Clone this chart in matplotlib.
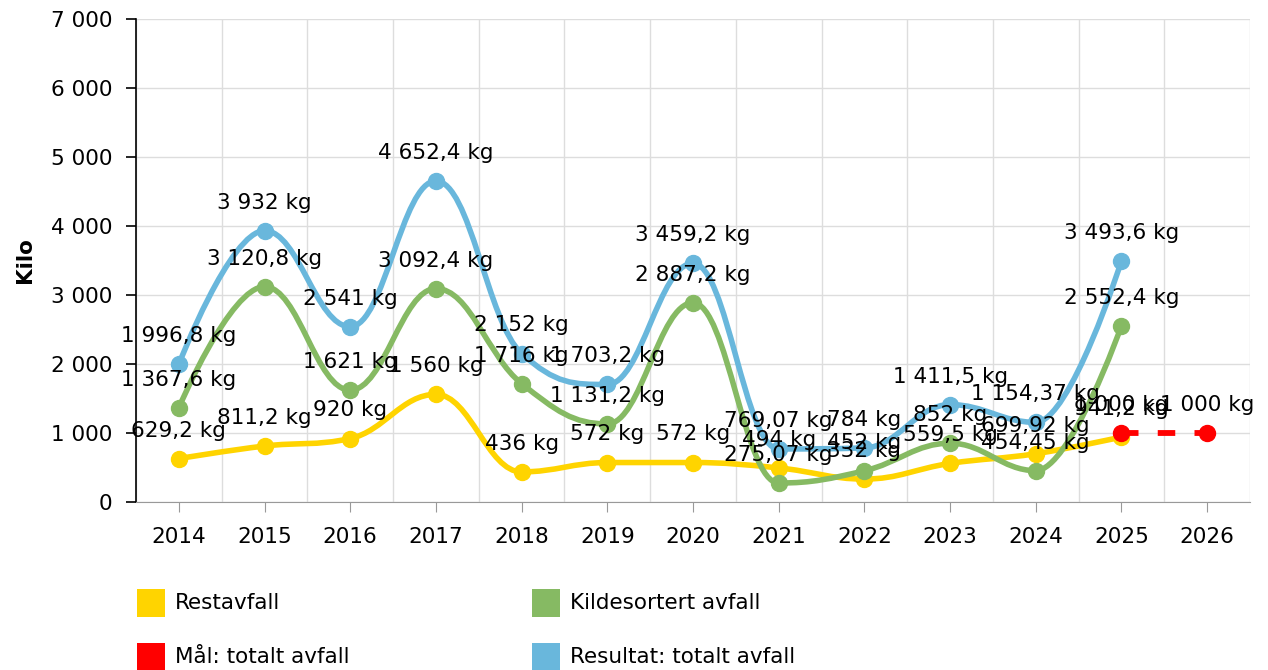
import matplotlib
matplotlib.use("Agg")
import matplotlib.pyplot as plt
from matplotlib.path import Path
from matplotlib.patches import PathPatch, Rectangle
from matplotlib.ticker import FuncFormatter, MultipleLocator

plt.rcParams['font.family'] = ['DejaVu Sans']

years = ['2014', '2015', '2016', '2017', '2018', '2019', '2020',
         '2021', '2022', '2023', '2024', '2025', '2026']

restavfall = [629.2, 811.2, 920, 1560, 436, 572, 572, 494, 332, 559.5, 699.92, 941.2]
kildesortert = [1367.6, 3120.8, 1621, 3092.4, 1716, 1131.2, 2887.2, 275.07, 452, 852, 454.45, 2552.4]
resultat = [1996.8, 3932, 2541, 4652.4, 2152, 1703.2, 3459.2, 769.07, 784, 1411.5, 1154.37, 3493.6]
maal = [1000, 1000]
maal_years = ['2025', '2026']

COL_YELLOW = '#FFD400'
COL_GREEN = '#86BA63'
COL_RED = '#FF0000'
COL_BLUE = '#69B7DC'

FS = 15.5


def fmt_kg(v):
    s = '{:,g}'.format(v)
    s = s.replace(',', ' ').replace('.', ',')
    return s + ' kg'


def spline_path(xs, ys, smoothing=1.5):
    # bezier spline in the same spirit as highcharts 'spline'
    denom = smoothing + 1
    n = len(xs)
    right = [None] * n
    left = [None] * n
    for i in range(1, n - 1):
        px, py = xs[i], ys[i]
        lx, ly = xs[i - 1], ys[i - 1]
        nx, ny = xs[i + 1], ys[i + 1]
        lcx = (smoothing * px + lx) / denom
        lcy = (smoothing * py + ly) / denom
        rcx = (smoothing * px + nx) / denom
        rcy = (smoothing * py + ny) / denom
        corr = 0
        if rcx != lcx:
            corr = (rcy - lcy) * (rcx - px) / (rcx - lcx) + py - rcy
        lcy += corr
        rcy += corr
        if lcy > ly and lcy > py:
            lcy = max(ly, py)
            rcy = 2 * py - lcy
        elif lcy < ly and lcy < py:
            lcy = min(ly, py)
            rcy = 2 * py - lcy
        if rcy > ny and rcy > py:
            rcy = max(ny, py)
            lcy = 2 * py - rcy
        elif rcy < ny and rcy < py:
            rcy = min(ny, py)
            lcy = 2 * py - rcy
        left[i] = (lcx, lcy)
        right[i] = (rcx, rcy)
    verts = [(xs[0], ys[0])]
    codes = [Path.MOVETO]
    for i in range(1, n):
        c1 = right[i - 1] if right[i - 1] else (xs[i - 1], ys[i - 1])
        c2 = left[i] if left[i] else (xs[i], ys[i])
        verts += [c1, c2, (xs[i], ys[i])]
        codes += [Path.CURVE4] * 3
    return Path(verts, codes)


fig = plt.figure(figsize=(12.68, 6.70), dpi=100)
ax = fig.add_axes([136 / 1268, 1 - 502 / 670, (1250 - 136) / 1268, (502 - 19) / 670])

series = [
    (restavfall, COL_YELLOW, 2),
    (kildesortert, COL_GREEN, 3),
    (resultat, COL_BLUE, 5),
]

for vals, col, z in series:
    xs = list(range(len(vals)))
    patch = PathPatch(spline_path(xs, vals), fill=False, edgecolor=col,
                      lw=4, zorder=z, capstyle='round', joinstyle='round')
    ax.add_patch(patch)
    ax.plot(xs, vals, 'o', color=col, markersize=11.5, zorder=z)

# goal line
mx = [years.index(y) for y in maal_years]
ax.plot(mx, maal, color=COL_RED, lw=4.2, dashes=(3.0, 3.3), marker='o',
        markersize=11.5, zorder=4)

# data labels
all_series = [(list(range(len(restavfall))), restavfall),
              (list(range(len(kildesortert))), kildesortert),
              (mx, maal),
              (list(range(len(resultat))), resultat)]
for xs, vals in all_series:
    for x, v in zip(xs, vals):
        ax.annotate(fmt_kg(v), (x, v), xytext=(0, 13), textcoords='offset points',
                    ha='center', va='bottom', fontsize=FS, color='#000000', zorder=10)

ax.set_xlim(-0.5, len(years) - 0.5)
ax.set_ylim(0, 7000)
ax.set_xticks(range(len(years)))
ax.set_xticklabels(years)
ax.yaxis.set_major_locator(MultipleLocator(1000))
ax.yaxis.set_major_formatter(FuncFormatter(lambda v, p: '{:,.0f}'.format(v).replace(',', ' ')))

# grid: vertical lines between categories
ax.set_xticks([i - 0.5 for i in range(len(years) + 1)], minor=True)
ax.grid(True, which='minor', axis='x', color='#dddddd', lw=1)
ax.grid(True, which='major', axis='y', color='#dddddd', lw=1)
ax.set_axisbelow(True)

ax.tick_params(axis='x', which='major', length=7, color='#999999', labelsize=FS, pad=11)
ax.tick_params(axis='x', which='minor', length=0)
ax.tick_params(axis='y', length=7, color='#000000', width=1.2, labelsize=FS, pad=10)

for side in ['top', 'right']:
    ax.spines[side].set_visible(False)
ax.spines['left'].set_color('#000000')
ax.spines['left'].set_linewidth(1.2)
ax.spines['bottom'].set_color('#999999')

fig.text(25 / 1268, 1 - 260 / 670, 'Kilo', rotation=90, fontsize=15.5, fontweight='bold',
         ha='center', va='center')

# legend
legend_items = [('Restavfall', COL_YELLOW, 137, 603),
                ('Kildesortert avfall', COL_GREEN, 532, 603),
                ('Mål: totalt avfall', COL_RED, 137, 657),
                ('Resultat: totalt avfall', COL_BLUE, 532, 657)]
for label, col, px, py in legend_items:
    fig.add_artist(Rectangle((px / 1268, 1 - (py + 14) / 670), 28 / 1268, 28 / 670,
                             transform=fig.transFigure, color=col, lw=0))
    fig.text((px + 38) / 1268, 1 - py / 670, label, fontsize=FS, ha='left', va='center')

fig.savefig('out.png', dpi=100)
